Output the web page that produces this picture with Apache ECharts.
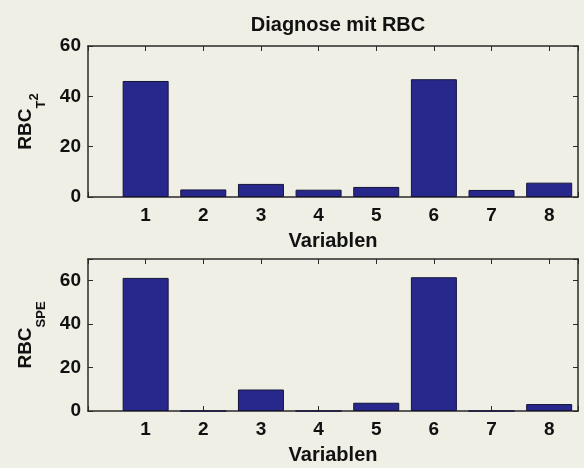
<!DOCTYPE html>
<html>
<head>
<meta charset="utf-8">
<script src="https://cdn.jsdelivr.net/npm/echarts@6/dist/echarts.min.js"></script>
<style>
html,body{margin:0;padding:0;background:#f0efe5;}
#c{width:584px;height:468px;}
</style>
</head>
<body>
<div id="c"></div>
<script>
const variables = [1, 2, 3, 4, 5, 6, 7, 8];
const rbcT2 = [46.1, 3.0, 5.2, 2.9, 4.0, 46.8, 2.8, 5.7];
const rbcSPE = [61.3, 0, 9.9, 0, 3.8, 61.6, 0, 3.2];
const yTicksTop = [0, 20, 40, 60];
const yTicksBottom = [0, 20, 40, 60];

const FONT = 'Liberation Sans, Arial, sans-serif';
const TXT = '#111';
const LINE = '#2a2a2a';
const BAR = '#28288c';

const chart = echarts.init(document.getElementById('c'));

const richName = {
  a: {fontFamily: FONT, fontWeight: 'bold', fontSize: 19, color: TXT, lineHeight: 44, verticalAlign: 'top', padding: [2, 0, 0, 0]},
  sub: {fontFamily: FONT, fontWeight: 'bold', fontSize: 13, color: TXT, lineHeight: 44, verticalAlign: 'top', padding: [21, 0, 0, 0]},
  sup: {fontFamily: FONT, fontWeight: 'bold', fontSize: 13, color: TXT, lineHeight: 44, verticalAlign: 'top', padding: [14, 0, 0, 0]}
};

const lineStyle = {color: LINE, width: 1.5};
const tickStyle = {show: true, inside: true, length: 5, lineStyle: {color: LINE, width: 1}};

function xAxisBottom(gi) {
  return {
    type: 'value', gridIndex: gi, min: 0, max: 8.5, interval: 1,
    position: 'bottom',
    name: 'Variablen', nameLocation: 'middle', nameGap: 34,
    nameTextStyle: {fontFamily: FONT, fontWeight: 'bold', fontSize: 20, color: TXT},
    axisLine: {show: true, onZero: false, lineStyle: lineStyle},
    axisTick: tickStyle,
    axisLabel: {
      margin: 9, fontFamily: FONT, fontWeight: 'bold', fontSize: 19, color: TXT,
      formatter: v => variables.indexOf(v) >= 0 ? String(v) : ''
    },
    splitLine: {show: false}
  };
}
function xAxisTop(gi) {
  return {
    type: 'value', gridIndex: gi, min: 0, max: 8.5, interval: 1, position: 'top',
    axisLine: {show: true, onZero: false, lineStyle: lineStyle},
    axisTick: tickStyle,
    axisLabel: {show: false}, splitLine: {show: false}
  };
}
function yAxisLeft(gi, max, ticks, nameRich) {
  return {
    type: 'value', gridIndex: gi, min: 0, max: max, interval: 20, position: 'left',
    name: nameRich, nameLocation: 'middle', nameGap: 30, nameRotate: 90,
    nameTextStyle: {fontFamily: FONT, color: TXT, rich: richName},
    axisLine: {show: true, onZero: false, lineStyle: lineStyle},
    axisTick: tickStyle,
    axisLabel: {
      margin: 7, fontFamily: FONT, fontWeight: 'bold', fontSize: 19, color: TXT,
      formatter: v => ticks.indexOf(v) >= 0 ? String(v) : ''
    },
    splitLine: {show: false}
  };
}
function yAxisRight(gi, max) {
  return {
    type: 'value', gridIndex: gi, min: 0, max: max, interval: 20, position: 'right',
    axisLine: {show: true, onZero: false, lineStyle: lineStyle},
    axisTick: tickStyle,
    axisLabel: {show: false}, splitLine: {show: false}
  };
}

const barStyle = {color: BAR, borderColor: '#14143a', borderWidth: 1};

chart.setOption({
  backgroundColor: '#f0efe5',
  animation: false,
  title: {
    text: 'Diagnose mit RBC', left: 333, top: 10, textAlign: 'center',
    textStyle: {fontFamily: FONT, fontWeight: 'bold', fontSize: 20, color: TXT}
  },
  grid: [
    {left: 88, right: 6, top: 46, height: 151},
    {left: 88, right: 6, top: 259, height: 152}
  ],
  xAxis: [xAxisBottom(0), xAxisTop(0), xAxisBottom(1), xAxisTop(1)],
  yAxis: [
    yAxisLeft(0, 60, yTicksTop, '{a|RBC}{sub|T}{sup|2}'),
    yAxisRight(0, 60),
    yAxisLeft(1, 70, yTicksBottom, '{a|RBC}{sub|SPE}'),
    yAxisRight(1, 70)
  ],
  series: [
    {type: 'bar', xAxisIndex: 0, yAxisIndex: 0, barWidth: 46, itemStyle: barStyle,
     data: variables.map((v, i) => [v, rbcT2[i]])},
    {type: 'bar', xAxisIndex: 2, yAxisIndex: 2, barWidth: 46, itemStyle: barStyle,
     data: variables.map((v, i) => [v, rbcSPE[i]])},
    {type: 'line', xAxisIndex: 1, yAxisIndex: 1, data: [], silent: true},
    {type: 'line', xAxisIndex: 3, yAxisIndex: 3, data: [], silent: true}
  ]
});
</script>
</body>
</html>
